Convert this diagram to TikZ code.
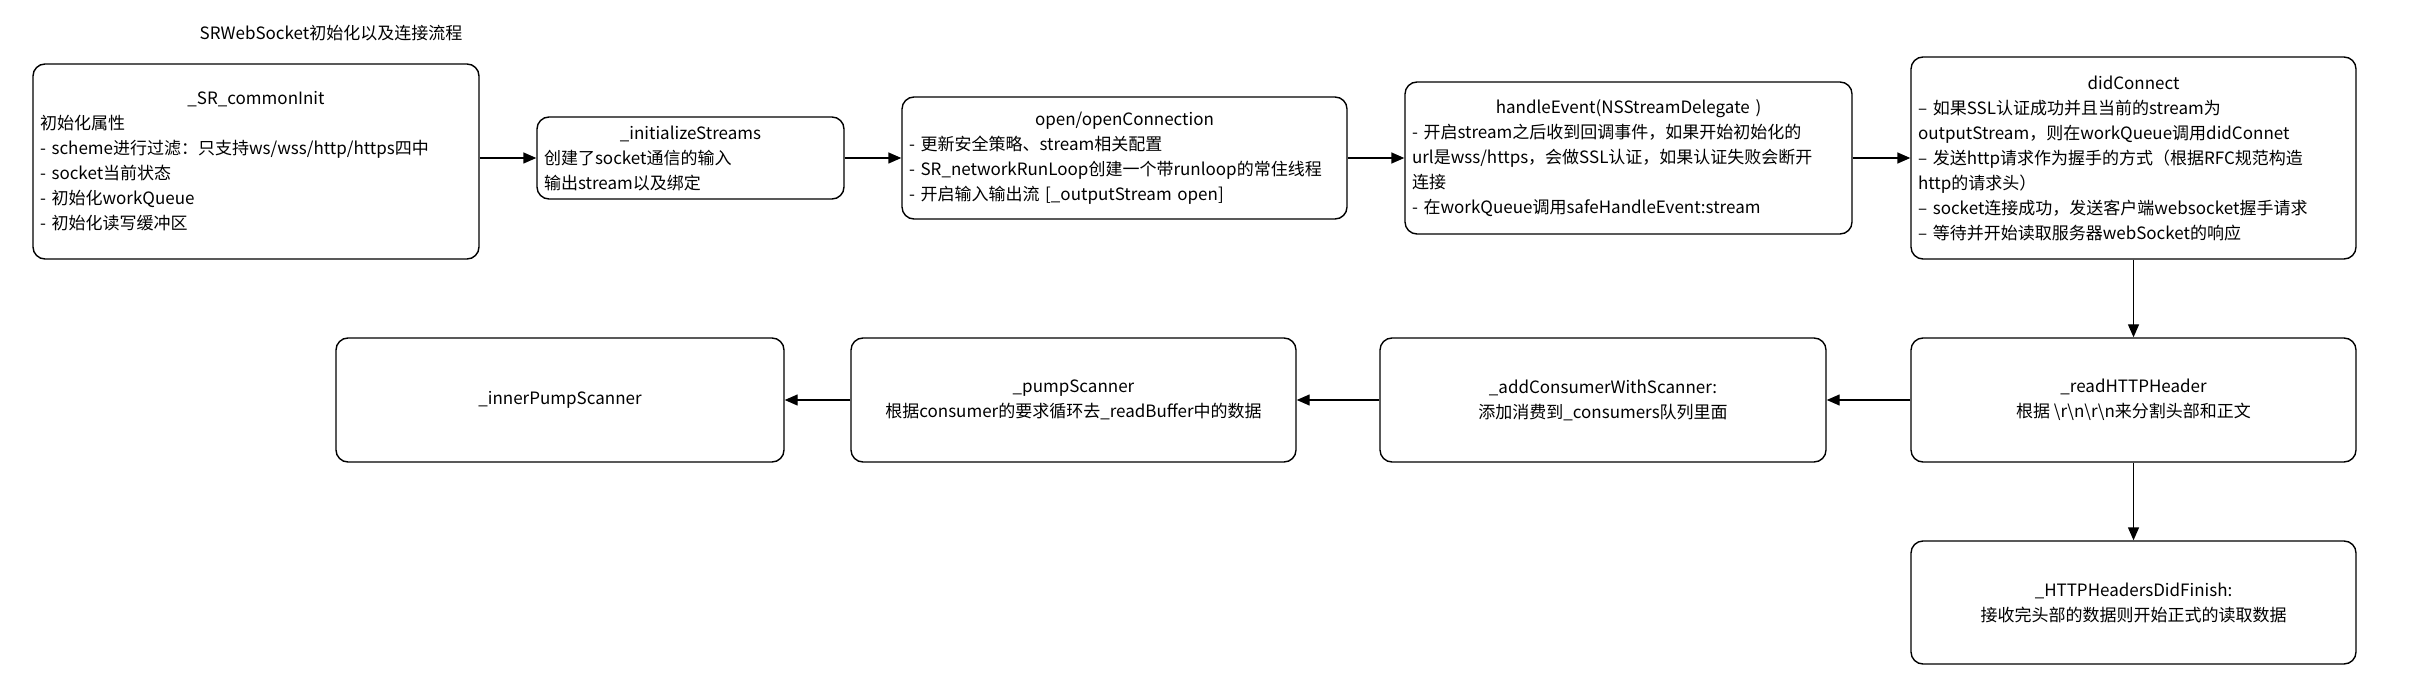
\documentclass[tikz,border=0pt]{standalone}
\usepackage{fontspec}
\setmainfont{Noto Sans CJK SC}
\usetikzlibrary{arrows.meta}
\tikzset{box/.style={draw, rounded corners=12pt, line width=1.4pt,
   inner xsep=7pt, inner ysep=0pt, font=\fontsize{17}{25}\selectfont},
 arr/.style={-{Triangle[length=13pt,width=11pt]}, line width=1.4pt},
 }

\begin{document}
\begin{tikzpicture}[x=1pt, y=-1pt]
        \useasboundingbox (0,0) rectangle (2416,700);
        \node[font=\fontsize{17}{25}\selectfont] (title) at (331,33) {SRWebSocket初始化以及连接流程};
        \node[box, text width=432pt, minimum height=195pt, align=left] (common) at (256,161.5)
            {\makebox[\linewidth]{\_SR\_commonInit}\\初始化属性\\- scheme进行过滤：只支持ws/wss/http/https四中\\- socket当前状态\\- 初始化workQueue\\- 初始化读写缓冲区};
        \node[box, text width=293pt, minimum height=82pt, align=left] (init) at (690.5,158)
            {\makebox[\linewidth]{\_initializeStreams}\\创建了socket通信的输入\\输出stream以及绑定};
        \node[box, text width=431pt, minimum height=122pt, align=left] (open) at (1124.5,158)
            {\makebox[\linewidth]{open/openConnection}\\- 更新安全策略、stream相关配置\\- SR\_networkRunLoop创建一个带runloop的常住线程\\- 开启输入输出流 [\_outputStream open]};
        \node[box, text width=433pt, minimum height=152pt, align=left] (handle) at (1628.5,158)
            {\makebox[\linewidth]{handleEvent(NSStreamDelegate )}\\- 开启stream之后收到回调事件，如果开始初始化的\\url是wss/https，会做SSL认证，如果认证失败会断开\\连接\\- 在workQueue调用safeHandleEvent:stream};
        \node[box, text width=431pt, minimum height=202pt, align=left] (did) at (2133.5,158)
            {\makebox[\linewidth]{didConnect}\\– 如果SSL认证成功并且当前的stream为\\outputStream，则在workQueue调用didConnet\\– 发送http请求作为握手的方式（根据RFC规范构造\\http的请求头）\\– socket连接成功，发送客户端websocket握手请求\\– 等待并开始读取服务器webSocket的响应};
        \node[box, minimum width=445pt, minimum height=124pt, align=center] (read) at (2133.5,400)
            {\_readHTTPHeader\\根据 \textbackslash r\textbackslash n\textbackslash r\textbackslash n来分割头部和正文};
        \node[box, minimum width=446pt, minimum height=124pt, align=center] (add) at (1603,400)
            {\_addConsumerWithScanner:\\添加消费到\_consumers队列里面};
        \node[box, minimum width=445pt, minimum height=124pt, align=center] (pump) at (1073.5,400)
            {\_pumpScanner\\根据consumer的要求循环去\_readBuffer中的数据};
        \node[box, minimum width=448pt, minimum height=124pt, align=center] (inner) at (560,400)
            {\_innerPumpScanner};
        \node[box, minimum width=445pt, minimum height=123pt, align=center] (finish) at (2133.5,602.5)
            {\_HTTPHeadersDidFinish:\\接收完头部的数据则开始正式的读取数据};
        \draw[arr] (common.east |- init.west) -- (init.west);
        \draw[arr] (init.east) -- (open.west);
        \draw[arr] (open.east) -- (handle.west);
        \draw[arr] (handle.east) -- (did.west);
        \draw[arr] (did.south) -- (read.north);
        \draw[arr] (read.west) -- (add.east);
        \draw[arr] (add.west) -- (pump.east);
        \draw[arr] (pump.west) -- (inner.east);
        \draw[arr] (read.south) -- (finish.north);
    \end{tikzpicture}
\end{document}
